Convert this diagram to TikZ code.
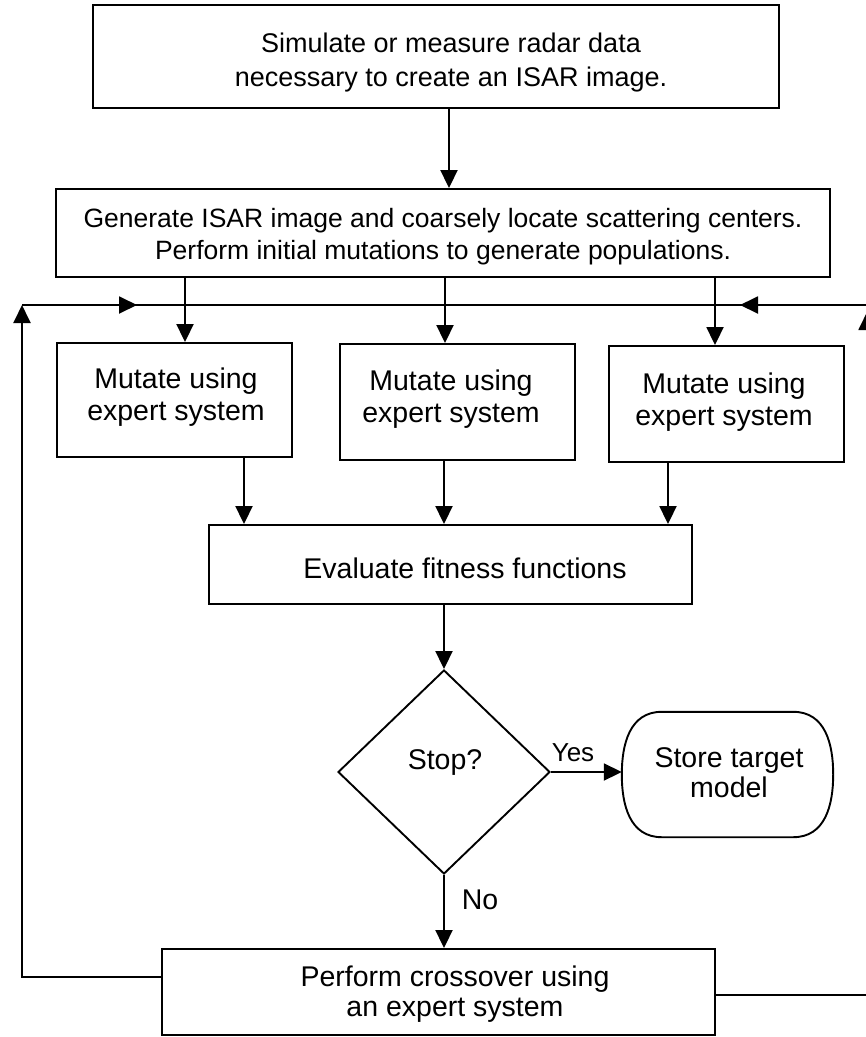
\documentclass[tikz,border=0pt]{standalone}
\usepackage{fontspec}
\setmainfont{Liberation Sans}
\usetikzlibrary{arrows.meta,calc,shapes.geometric}
\begin{document}
\begin{tikzpicture}[x=1pt,y=-1pt,
  box/.style={draw,line width=1.9pt,inner sep=0pt},
  ln/.style={line width=1.9pt},
  arr/.style={line width=1.9pt,-{Triangle[length=18pt,width=17pt]}},
  txt/.style={align=center,inner sep=0pt},
  big/.style={font=\fontsize{28.5}{32}\selectfont},
  mid/.style={font=\fontsize{26.5}{32}\selectfont},
]
\useasboundingbox (0,0) rectangle (866,1037);
\fill[white] (0,0) rectangle (866,1037);

% boxes
\node[box,minimum width=686pt,minimum height=103pt] (top) at (436,56.5) {};
\node[box,minimum width=774pt,minimum height=88pt] (gen) at (443,233) {};
\node[box,minimum width=235pt,minimum height=114pt] (m1) at (174.5,400) {};
\node[box,minimum width=235pt,minimum height=116pt] (m2) at (457.5,402) {};
\node[box,minimum width=235pt,minimum height=116pt] (m3) at (726.5,404) {};
\node[box,minimum width=483pt,minimum height=79pt] (ev) at (450.5,564.5) {};
\node[box,diamond,minimum width=212pt,minimum height=204pt] (stop) at (444,772) {};
\node[inner sep=0pt,minimum width=211pt,minimum height=125pt] (st) at (727.5,774.5) {};
\node[box,minimum width=553pt,minimum height=86pt] (cross) at (438.5,992) {};

% terminal outline
\draw[ln] ([xshift=40pt]st.north west) -- ([xshift=-40pt]st.north east)
  .. controls ([xshift=-8pt]st.north east) and ([yshift=-32pt]st.north east) .. (st.east)
  .. controls ([yshift=32pt]st.south east) and ([xshift=-8pt]st.south east) .. ([xshift=-40pt]st.south east)
  -- ([xshift=40pt]st.south west)
  .. controls ([xshift=8pt]st.south west) and ([yshift=32pt]st.south west) .. (st.west)
  .. controls ([yshift=-32pt]st.north west) and ([xshift=8pt]st.north west) .. ([xshift=40pt]st.north west) -- cycle;

% texts
\node[txt,font=\fontsize{27}{34}\selectfont] (topT) at (451,63) {Simulate or measure radar data\\necessary to create an ISAR image.};
\node[txt,mid] (genT) at (443,237) {Generate ISAR image and coarsely locate scattering centers.\\Perform initial mutations to generate populations.};
\node[txt,big] (m1T) at (176,397) {Mutate using\\expert system};
\node[txt,big] (m2T) at (451,399) {Mutate using\\expert system};
\node[txt,big] (m3T) at (724,402) {Mutate using\\expert system};
\node[txt,big] (evT) at (465,568) {Evaluate fitness functions};
\node[txt,big] (stopT) at (445,762) {Stop?};
\node[txt,font=\fontsize{28.5}{30}\selectfont] (stT) at (729,773) {Store target\\model};
\node[txt,font=\fontsize{28.5}{30}\selectfont] (crossT) at (455,994) {Perform crossover using\\an expert system};
\node[txt,font=\fontsize{26}{30}\selectfont] (yes) at (573,753) {Yes};
\node[txt,big] (no) at (480,900) {No};

% helper x positions
\coordinate (xa) at (449,0);
\coordinate (x1) at (185,0);
\coordinate (x2) at (445,0);
\coordinate (x3) at (715,0);
\coordinate (y1) at (244,0);
\coordinate (y2) at (444,0);
\coordinate (y3) at (668,0);

% main flow
\draw[arr] (top.south -| xa) -- (gen.north -| xa);
\draw[arr] (gen.south -| x1) -- (m1.north -| x1);
\draw[arr] (gen.south -| x2) -- (m2.north -| x2);
\draw[arr] (gen.south -| x3) -- (m3.north -| x3);
\draw[arr] (m1.south -| y1) -- (ev.north -| y1);
\draw[arr] (m2.south -| y2) -- (ev.north -| y2);
\draw[arr] (m3.south -| y3) -- (ev.north -| y3);
\draw[arr] (ev.south -| stop.north) -- (stop.north);
\draw[arr] (stop.east) -- (stop.east -| st.west);
\draw[arr] (stop.south) -- (stop.south |- cross.north);

% feedback loop
\coordinate (fl) at (22,977);
\coordinate (flt) at (22,305);
\coordinate (fr) at (867,995);
\coordinate (frt) at (867,305);
\coordinate (frtip) at (867,312);
\coordinate (ha1) at (137,305);
\coordinate (ha2) at (740,305);
\draw[arr] (cross.west |- fl) -- (fl) -- (flt);
\draw[arr] (cross.east |- fr) -- (fr) -- (frtip);
\draw[ln] (flt) -- (frt);
\draw[arr] (flt) -- (ha1);
\draw[arr] (frt) -- (ha2);
\end{tikzpicture}
\end{document}
